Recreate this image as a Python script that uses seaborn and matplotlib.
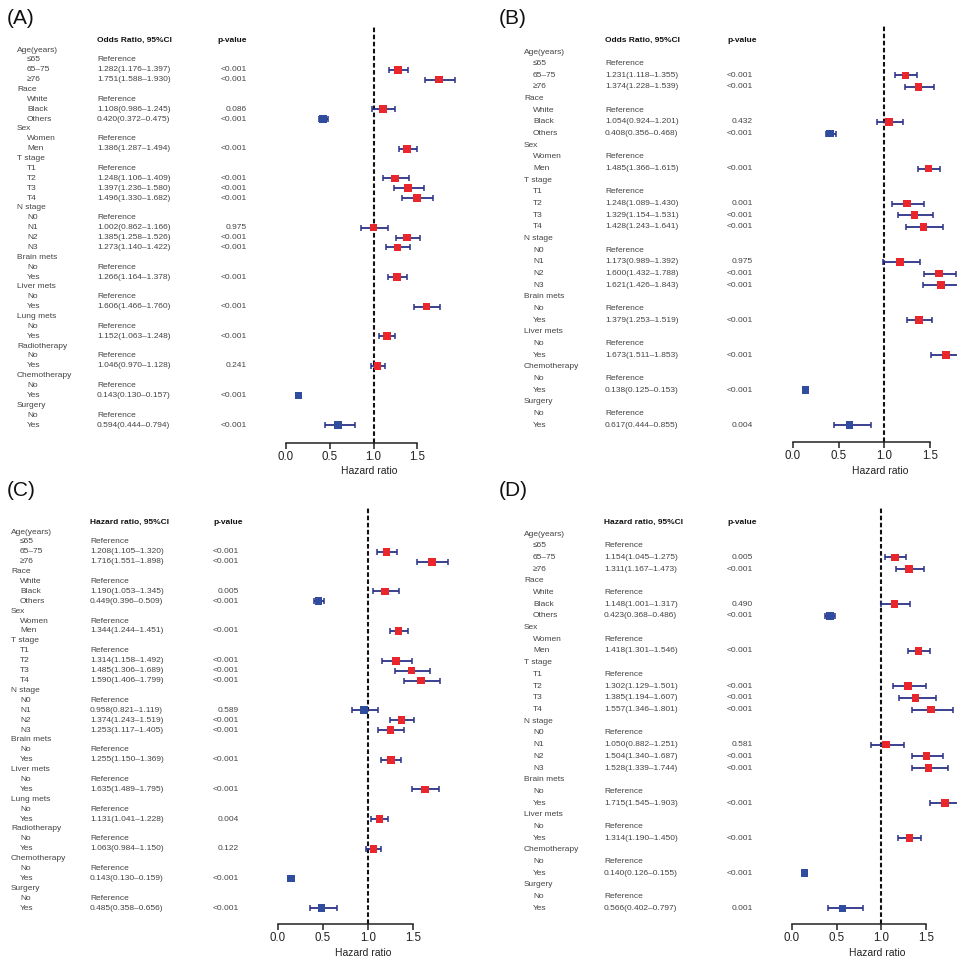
import numpy as np
import pandas as pd
import matplotlib
matplotlib.use("Agg")
import matplotlib.pyplot as plt
import matplotlib.transforms as mtransforms
import seaborn as sns

sns.set_style("white")
plt.rcParams['font.family'] = ['Liberation Sans', 'DejaVu Sans']

W, H = 957, 959

# ---------------- data ----------------
groups_full = ["Age(years)", "Race", "Sex", "T stage", "N stage", "Brain mets",
               "Liver mets", "Lung mets", "Radiotherapy", "Chemotherapy", "Surgery"]
groups_short = ["Age(years)", "Race", "Sex", "T stage", "N stage", "Brain mets",
                "Liver mets", "Chemotherapy", "Surgery"]
levels_map = {
    "Age(years)": ["≤65", "65–75", "≥76"],
    "Race": ["White", "Black", "Others"],
    "Sex": ["Women", "Men"],
    "T stage": ["T1", "T2", "T3", "T4"],
    "N stage": ["N0", "N1", "N2", "N3"],
    "Brain mets": ["No", "Yes"],
    "Liver mets": ["No", "Yes"],
    "Lung mets": ["No", "Yes"],
    "Radiotherapy": ["No", "Yes"],
    "Chemotherapy": ["No", "Yes"],
    "Surgery": ["No", "Yes"],
}

A_est = [1.282, 1.751, 1.108, 0.420, 1.386, 1.248, 1.397, 1.496, 1.002, 1.385, 1.273,
         1.266, 1.606, 1.152, 1.046, 0.143, 0.594]
A_lo = [1.176, 1.588, 0.986, 0.372, 1.287, 1.106, 1.236, 1.330, 0.862, 1.258, 1.140,
        1.164, 1.466, 1.063, 0.970, 0.130, 0.444]
A_hi = [1.397, 1.930, 1.245, 0.475, 1.494, 1.409, 1.580, 1.682, 1.166, 1.526, 1.422,
        1.378, 1.760, 1.248, 1.128, 0.157, 0.794]
A_p = ["<0.001", "<0.001", "0.086", "<0.001", "<0.001", "<0.001", "<0.001", "<0.001",
       "0.975", "<0.001", "<0.001", "<0.001", "<0.001", "<0.001", "0.241", "<0.001", "<0.001"]

B_est = [1.231, 1.374, 1.054, 0.408, 1.485, 1.248, 1.329, 1.428, 1.173, 1.600, 1.621,
         1.379, 1.673, 0.138, 0.617]
B_lo = [1.118, 1.228, 0.924, 0.356, 1.366, 1.089, 1.154, 1.243, 0.989, 1.432, 1.426,
        1.253, 1.511, 0.125, 0.444]
B_hi = [1.355, 1.539, 1.201, 0.468, 1.615, 1.430, 1.531, 1.641, 1.392, 1.788, 1.843,
        1.519, 1.853, 0.153, 0.855]
B_p = ["<0.001", "<0.001", "0.432", "<0.001", "<0.001", "0.001", "<0.001", "<0.001",
       "0.975", "<0.001", "<0.001", "<0.001", "<0.001", "<0.001", "0.004"]

C_est = [1.208, 1.716, 1.190, 0.449, 1.344, 1.314, 1.485, 1.590, 0.958, 1.374, 1.253,
         1.255, 1.635, 1.131, 1.063, 0.143, 0.485]
C_lo = [1.105, 1.551, 1.053, 0.396, 1.244, 1.158, 1.306, 1.406, 0.821, 1.243, 1.117,
        1.150, 1.489, 1.041, 0.984, 0.130, 0.358]
C_hi = [1.320, 1.898, 1.345, 0.509, 1.451, 1.492, 1.689, 1.799, 1.119, 1.519, 1.405,
        1.369, 1.795, 1.228, 1.150, 0.159, 0.656]
C_p = ["<0.001", "<0.001", "0.005", "<0.001", "<0.001", "<0.001", "<0.001", "<0.001",
       "0.589", "<0.001", "<0.001", "<0.001", "<0.001", "0.004", "0.122", "<0.001", "<0.001"]

D_est = [1.154, 1.311, 1.148, 0.423, 1.418, 1.302, 1.385, 1.557, 1.050, 1.504, 1.528,
         1.715, 1.314, 0.140, 0.566]
D_lo = [1.045, 1.167, 1.001, 0.368, 1.301, 1.129, 1.194, 1.346, 0.882, 1.340, 1.339,
        1.545, 1.190, 0.126, 0.402]
D_hi = [1.275, 1.473, 1.317, 0.486, 1.546, 1.501, 1.607, 1.801, 1.251, 1.687, 1.744,
        1.903, 1.450, 0.155, 0.797]
D_p = ["0.005", "<0.001", "0.490", "<0.001", "<0.001", "<0.001", "<0.001", "<0.001",
       "0.581", "<0.001", "<0.001", "<0.001", "<0.001", "<0.001", "0.001"]

x_ticks = [0.0, 0.5, 1.0, 1.5]
x_ticklabels = ["0.0", "0.5", "1.0", "1.5"]

RED = "#e8262b"
BLUE = "#2f4c9f"
NAVY = "#2b3187"
TXT = "#444444"

panels = [
    dict(tag="(A)", header="Odds Ratio, 95%CI", groups=groups_full, est=A_est, lo=A_lo, hi=A_hi, p=A_p,
         title=(7, 18), gx=17, sx=27, vx=97, phx=217, prx=247, hy=40, row0=50, step=9.87,
         axis_y=443, top=27, zero=286, unit=87.5, xmax=2.05, lab_y=471),
    dict(tag="(B)", header="Odds Ratio, 95%CI", groups=groups_short, est=B_est, lo=B_lo, hi=B_hi, p=B_p,
         title=(499, 18), gx=524, sx=533, vx=605, phx=727, prx=753, hy=40, row0=52, step=11.66,
         axis_y=442, top=25, zero=793, unit=91.3, xmax=(957 - 793) / 91.3, lab_y=471),
    dict(tag="(C)", header="Hazard ratio, 95%CI", groups=groups_full, est=C_est, lo=C_lo, hi=C_hi, p=C_p,
         title=(7, 490), gx=11, sx=20, vx=90, phx=213, prx=239, hy=522, row0=532, step=9.9,
         axis_y=924, top=508, zero=278, unit=89.8, xmax=2.05, lab_y=953),
    dict(tag="(D)", header="Hazard ratio, 95%CI", groups=groups_short, est=D_est, lo=D_lo, hi=D_hi, p=D_p,
         title=(499, 490), gx=524, sx=533, vx=604, phx=727, prx=753, hy=522, row0=534, step=11.7,
         axis_y=924, top=507, zero=792, unit=89.3, xmax=(957 - 792) / 89.3, lab_y=953),
]

fig = plt.figure(figsize=(W / 100, H / 100), dpi=100)
fig.patch.set_facecolor("white")


def fy(py):
    return 1 - py / H


for P in panels:
    # build rows
    rows = []
    k = 0
    for g in P["groups"]:
        rows.append((g, "group", None))
        for j, lev in enumerate(levels_map[g]):
            if j == 0:
                rows.append((lev, "ref", None))
            else:
                rows.append((lev, "est", k))
                k += 1

    xmin = -0.15
    left_px = P["zero"] + xmin * P["unit"]
    right_px = P["zero"] + P["xmax"] * P["unit"]
    ax = fig.add_axes([left_px / W, fy(P["axis_y"]), (right_px - left_px) / W,
                       (P["axis_y"] - P["top"]) / H])
    ax.set_facecolor("none")

    recs = []
    for i, (lab, kind, idx) in enumerate(rows):
        if kind == "est":
            recs.append(dict(y=i, est=P["est"][idx], lo=P["lo"][idx], hi=P["hi"][idx],
                             dir="up" if P["est"][idx] > 1 else "down"))
    df = pd.DataFrame(recs)

    ax.errorbar(df["est"], df["y"], xerr=[df["est"] - df["lo"], df["hi"] - df["est"]],
                fmt="none", ecolor=NAVY, elinewidth=1.3, capsize=1.9, capthick=1.1, zorder=2)
    sns.scatterplot(data=df, x="est", y="y", hue="dir", palette={"up": RED, "down": BLUE},
                    marker="s", s=30, linewidth=0, legend=False, ax=ax, zorder=3)
    ax.axvline(1.0, color="#111111", lw=1.5, ls=(0, (2.2, 1.2)), zorder=1)

    ax.set_xlim(xmin, P["xmax"])
    ax.set_ylim((P["axis_y"] - P["row0"]) / P["step"], (P["top"] - P["row0"]) / P["step"])
    ax.set_yticks([])
    ax.set_xticks(x_ticks)
    ax.set_xticklabels(x_ticklabels)
    ax.set_xlabel("")
    ax.set_ylabel("")
    for s in ["top", "right", "left"]:
        ax.spines[s].set_visible(False)
    ax.spines["bottom"].set_bounds(0, 1.5)
    ax.spines["bottom"].set_color("#222222")
    ax.spines["bottom"].set_linewidth(1.1)
    ax.tick_params(axis="x", direction="out", length=4, width=1.1, pad=1.5,
                   labelsize=8.3, colors="#222222", bottom=True)

    # x label
    tr_lab = mtransforms.blended_transform_factory(ax.transData, fig.transFigure)
    ax.text(0.95, fy(P["lab_y"]), "Hazard ratio", transform=tr_lab, ha="center", va="center",
            fontsize=7.5, color="#222222")

    # table text
    tr = mtransforms.blended_transform_factory(fig.transFigure, ax.transData)
    hy = (P["hy"] - P["row0"]) / P["step"]
    ax.text(P["vx"] / W, hy, P["header"], transform=tr, ha="left", va="center",
            fontsize=6, fontweight="bold", color="#111111")
    ax.text(P["phx"] / W, hy, "p-value", transform=tr, ha="left", va="center",
            fontsize=6, fontweight="bold", color="#111111")
    for i, (lab, kind, idx) in enumerate(rows):
        if kind == "group":
            ax.text(P["gx"] / W, i, lab, transform=tr, ha="left", va="center", fontsize=6, color=TXT)
        else:
            ax.text(P["sx"] / W, i, lab, transform=tr, ha="left", va="center", fontsize=6, color=TXT)
            if kind == "ref":
                ax.text(P["vx"] / W, i, "Reference", transform=tr, ha="left", va="center",
                        fontsize=6, color=TXT)
            else:
                s = "{:.3f}({:.3f}–{:.3f})".format(P["est"][idx], P["lo"][idx], P["hi"][idx])
                ax.text(P["vx"] / W, i, s, transform=tr, ha="left", va="center", fontsize=6, color=TXT)
                ax.text(P["prx"] / W, i, P["p"][idx], transform=tr, ha="right", va="center",
                        fontsize=6, color=TXT)

    fig.text(P["title"][0] / W, fy(P["title"][1]), P["tag"], ha="left", va="center",
             fontsize=15, color="#111111")

fig.savefig("out.png", dpi=100, facecolor="white")
